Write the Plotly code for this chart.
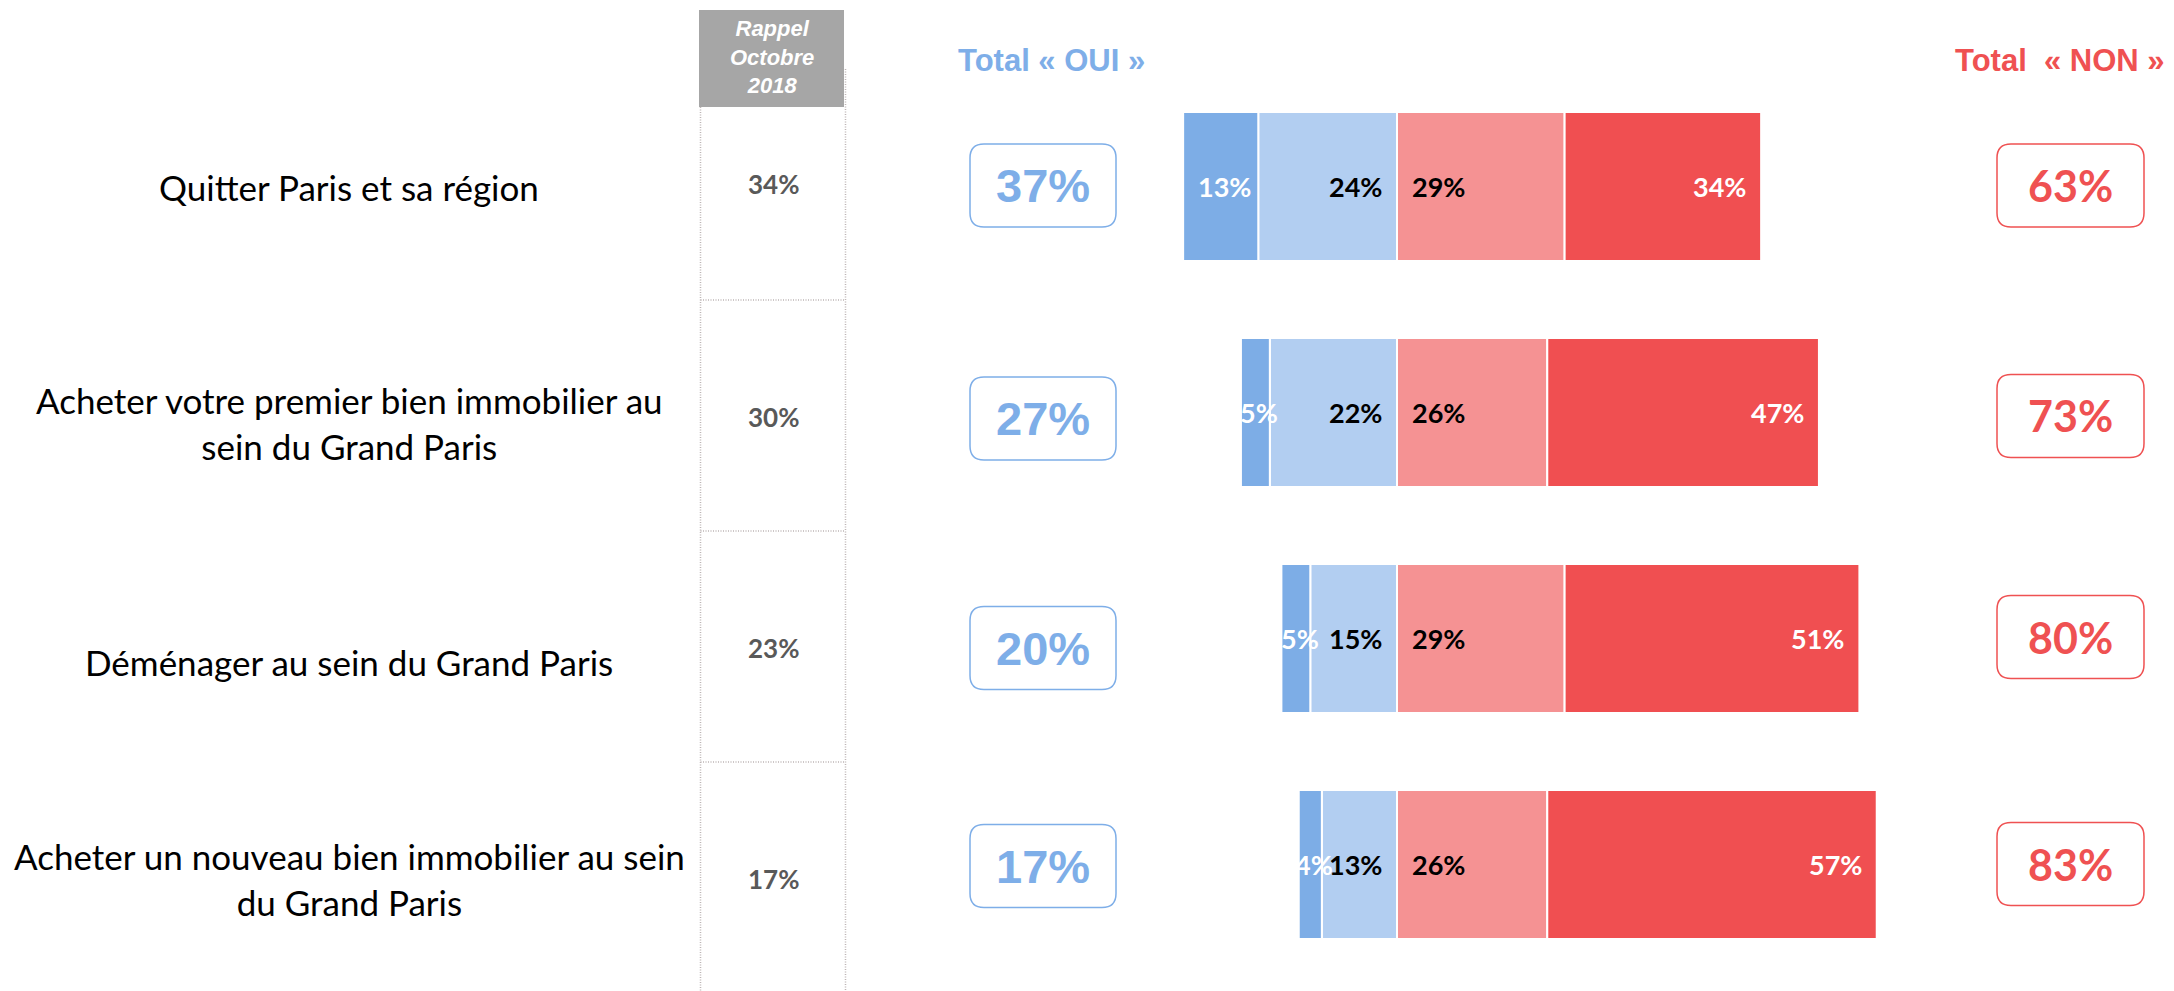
import plotly.graph_objects as go

# ---------------- data ----------------
categories = [
    "Quitter Paris et sa région",
    "Acheter votre premier bien immobilier au<br>sein du Grand Paris",
    "Déménager au sein du Grand Paris",
    "Acheter un nouveau bien immobilier au sein<br>du Grand Paris",
]
oui_certainement = [13, 5, 5, 4]
oui_probablement = [24, 22, 15, 13]
non_probablement = [29, 26, 29, 26]
non_certainement = [34, 47, 51, 57]
total_oui = [37, 27, 20, 17]
total_non = [63, 73, 80, 83]
rappel_2018 = [34, 30, 23, 17]

header_rappel = "Rappel<br>Octobre<br>2018"
title_oui = "Total « OUI »"
title_non = "Total\u00a0\u00a0« NON »"

# ---------------- layout constants ----------------
W, H = 2174, 991
C_DBLUE = "#7DADE6"
C_LBLUE = "#B2CEF1"
C_LRED = "#F59293"
C_DRED = "#F04F51"
C_OUI_TXT = "#7EAEE8"
C_NON_TXT = "#EF5152"
C_GRID = "#BDB5B5"

center_px = 1397.0
px_per_unit = 5.78
x_range = [-center_px / px_per_unit, (W - center_px) / px_per_unit]
bar_center_px = [186.5, 412.5, 638.5, 864.5]
row_step = 226.0
y_range = [3 + (H - bar_center_px[3]) / row_step, -bar_center_px[0] / row_step]

label_y_px = [187, 423, 662, 879]
table_y_px = [184, 417, 647.5, 879]
oui_box_y_px = [185.5, 418.5, 648, 866]
non_box_y_px = [185.5, 416, 637, 864]


def px(x):
    return x / W


def py(y):
    return 1 - y / H


def rrect(x0, y0, x1, y1, r):
    # rounded rectangle in paper coords (pixel inputs)
    rx, ry = r / W, r / H
    X0, X1 = px(x0), px(x1)
    Y0, Y1 = py(y0), py(y1)  # Y0 top (higher), Y1 bottom
    return (
        f"M {X0+rx},{Y0} L {X1-rx},{Y0} Q {X1},{Y0} {X1},{Y0-ry} "
        f"L {X1},{Y1+ry} Q {X1},{Y1} {X1-rx},{Y1} "
        f"L {X0+rx},{Y1} Q {X0},{Y1} {X0},{Y1+ry} "
        f"L {X0},{Y0-ry} Q {X0},{Y0} {X0+rx},{Y0} Z"
    )


fig = go.Figure()

bar_w = 149 / row_step
line = dict(color="white", width=2)
fig.add_trace(go.Bar(y=categories, x=[-v for v in oui_probablement], orientation="h",
                     marker=dict(color=C_LBLUE, line=line), width=bar_w, name="Oui, probablement"))
fig.add_trace(go.Bar(y=categories, x=[-v for v in oui_certainement], orientation="h",
                     marker=dict(color=C_DBLUE, line=line), width=bar_w, name="Oui, certainement"))
fig.add_trace(go.Bar(y=categories, x=non_probablement, orientation="h",
                     marker=dict(color=C_LRED, line=line), width=bar_w, name="Non, probablement pas"))
fig.add_trace(go.Bar(y=categories, x=non_certainement, orientation="h",
                     marker=dict(color=C_DRED, line=line), width=bar_w, name="Non, certainement pas"))

ann = []
shapes = []
bar_font = dict(family="Lato", size=27)
for i, cat in enumerate(categories):
    oc, op, npb, nc = oui_certainement[i], oui_probablement[i], non_probablement[i], non_certainement[i]
    # bar labels
    ann.append(dict(x=-(op + oc / 2), y=cat, xref="x", yref="y", text=f"<b>{oc}%</b>",
                    showarrow=False, xanchor="center", xshift=4,
                    font=dict(bar_font, color="white")))
    ann.append(dict(x=0, y=cat, xref="x", yref="y", text=f"<b>{op}%</b>",
                    showarrow=False, xanchor="right", xshift=-13,
                    font=dict(bar_font, color="black")))
    ann.append(dict(x=0, y=cat, xref="x", yref="y", text=f"<b>{npb}%</b>",
                    showarrow=False, xanchor="left", xshift=13,
                    font=dict(bar_font, color="black")))
    ann.append(dict(x=npb + nc, y=cat, xref="x", yref="y", text=f"<b>{nc}%</b>",
                    showarrow=False, xanchor="right", xshift=-13,
                    font=dict(bar_font, color="white")))
    # left category labels
    ann.append(dict(x=px(349), y=py(label_y_px[i]), xref="paper", yref="paper",
                    text=cat, showarrow=False, xanchor="center", yanchor="middle", align="center",
                    font=dict(family="Lato", size=35, color="black")))
    # rappel values
    ann.append(dict(x=px(773), y=py(table_y_px[i]), xref="paper", yref="paper",
                    text=f"<b>{rappel_2018[i]}%</b>", showarrow=False,
                    xanchor="center", yanchor="middle",
                    font=dict(family="Lato", size=26, color="#595959")))
    # total boxes
    yo = oui_box_y_px[i]
    shapes.append(dict(type="path", xref="paper", yref="paper",
                       path=rrect(970, yo - 41.5, 1116, yo + 41.5, 14),
                       line=dict(color=C_OUI_TXT, width=1.5), fillcolor="white", layer="above"))
    ann.append(dict(x=px(1043), y=py(yo), xref="paper", yref="paper",
                    text=f"<b>{total_oui[i]}%</b>", showarrow=False,
                    xanchor="center", yanchor="middle",
                    font=dict(family="Liberation Sans", size=47, color=C_OUI_TXT)))
    yn = non_box_y_px[i]
    shapes.append(dict(type="path", xref="paper", yref="paper",
                       path=rrect(1997, yn - 41.5, 2144, yn + 41.5, 14),
                       line=dict(color=C_NON_TXT, width=1.5), fillcolor="white", layer="above"))
    ann.append(dict(x=px(2070), y=py(yn), xref="paper", yref="paper",
                    text=f"<b>{total_non[i]}%</b>", showarrow=False,
                    xanchor="center", yanchor="middle",
                    font=dict(family="Lato", size=43, color=C_NON_TXT)))

# header box
shapes.append(dict(type="rect", xref="paper", yref="paper",
                   x0=px(699), x1=px(844), y0=py(107), y1=py(10),
                   fillcolor="#A6A6A6", line=dict(width=0), layer="above"))
ann.append(dict(x=px(771.5), y=py(57), xref="paper", yref="paper",
                text="<b><i>" + header_rappel.replace("<br>", "</i></b><br><b><i>") + "</i></b>",
                showarrow=False, xanchor="center", yanchor="middle", align="center",
                font=dict(family="Liberation Sans", size=22, color="white")))

# dotted table lines
dot = dict(color=C_GRID, width=1.5, dash="1px,1.5px")
shapes.append(dict(type="line", xref="paper", yref="paper", x0=px(700.5), x1=px(700.5),
                   y0=py(107), y1=py(991), line=dot, layer="above"))
shapes.append(dict(type="line", xref="paper", yref="paper", x0=px(845.5), x1=px(845.5),
                   y0=py(69), y1=py(991), line=dot, layer="above"))
for yl in [300, 531, 762]:
    shapes.append(dict(type="line", xref="paper", yref="paper", x0=px(700.5), x1=px(845.5),
                       y0=py(yl), y1=py(yl), line=dot, layer="above"))

# column titles
ann.append(dict(x=px(1051), y=py(60), xref="paper", yref="paper", text=f"<b>{title_oui}</b>",
                showarrow=False, xanchor="center", yanchor="middle",
                font=dict(family="Liberation Sans", size=31, color=C_OUI_TXT)))
ann.append(dict(x=px(2060), y=py(60), xref="paper", yref="paper", text=f"<b>{title_non}</b>",
                showarrow=False, xanchor="center", yanchor="middle",
                font=dict(family="Liberation Sans", size=31, color=C_NON_TXT)))

fig.update_layout(
    width=W, height=H,
    margin=dict(l=0, r=0, t=0, b=0),
    barmode="relative",
    showlegend=False,
    plot_bgcolor="white", paper_bgcolor="white",
    xaxis=dict(range=x_range, visible=False, domain=[0, 1]),
    yaxis=dict(range=y_range, visible=False, domain=[0, 1]),
    annotations=ann,
    shapes=shapes,
)

fig.write_html("out.html",
               config={"displayModeBar": False},
               post_script="document.body.style.margin='0';document.body.style.overflow='hidden';")
